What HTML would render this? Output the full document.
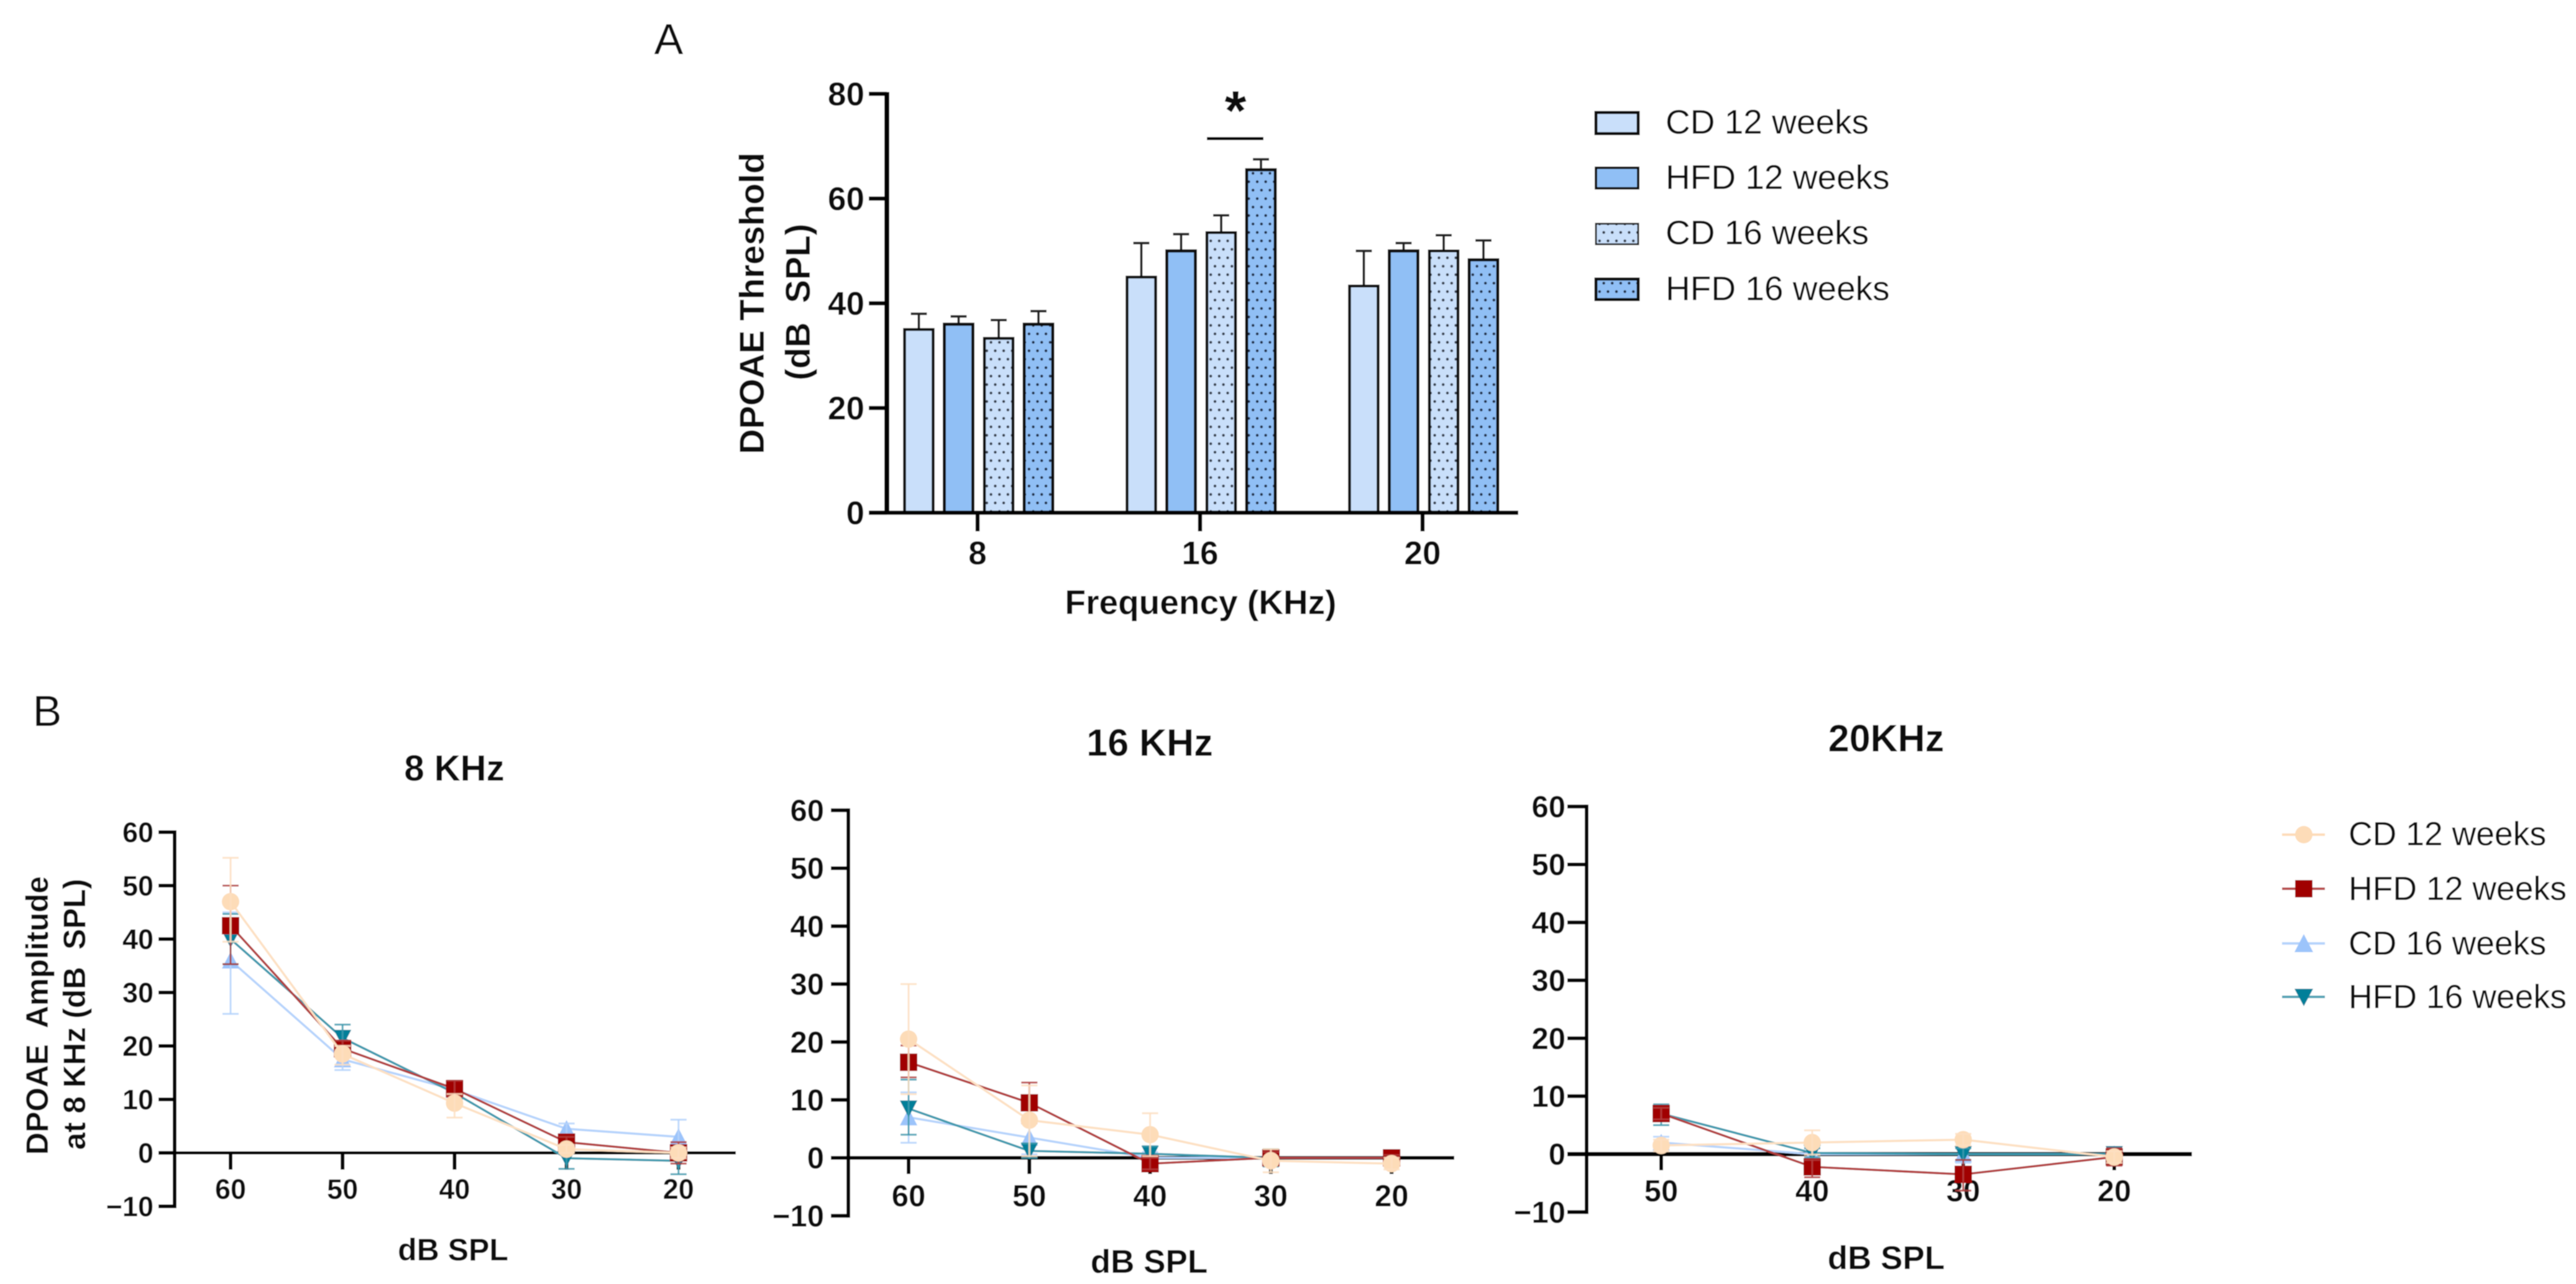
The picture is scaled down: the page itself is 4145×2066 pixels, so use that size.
<!DOCTYPE html>
<html lang="en">
<head>
<meta charset="utf-8">
<title>DPOAE threshold and amplitude charts</title>
<style>
html,body{margin:0;padding:0;background:#fff;width:4145px;height:2066px;overflow:hidden}
svg{display:block;font-family:"Liberation Sans",sans-serif}
text{fill:#0c0c0c}
.b{font-weight:700}
</style>
</head>
<body>
<svg id="figure" xmlns="http://www.w3.org/2000/svg" width="4145" height="2066" viewBox="0 0 4145 2066">
  <defs>
    <filter id="soft" x="0" y="0" width="100%" height="100%"><feGaussianBlur stdDeviation="0.9"/></filter>
    <pattern id="dots-cd" width="13.6" height="27.2" patternUnits="userSpaceOnUse">
      <rect width="13.6" height="27.2" fill="#c9dffa"/>
      <circle cx="3.4" cy="6.8" r="2.2" fill="#333a48"/>
      <circle cx="10.2" cy="20.4" r="2.2" fill="#333a48"/>
    </pattern>
    <pattern id="dots-hfd" width="13.6" height="27.2" patternUnits="userSpaceOnUse">
      <rect width="13.6" height="27.2" fill="#90bff5"/>
      <circle cx="3.4" cy="6.8" r="2.2" fill="#1f2c44"/>
      <circle cx="10.2" cy="20.4" r="2.2" fill="#1f2c44"/>
    </pattern>
  </defs>
  <g id="root" filter="url(#soft)">
    <rect width="4145" height="2066" fill="#fff"/>

    <text x="1076" y="87" font-size="70" text-anchor="middle">A</text>
    <text x="76" y="1168" font-size="70" text-anchor="middle">B</text>

    <text class="b" transform="translate(1229,488) rotate(-90)" font-size="56" text-anchor="middle">DPOAE Threshold</text>
    <text class="b" transform="translate(1303,486) rotate(-90)" font-size="56" text-anchor="middle" xml:space="preserve">(dB  SPL)</text>
    <text class="b" x="1932" y="988" font-size="55" text-anchor="middle">Frequency (KHz)</text>
    <line x1="1942" y1="223" x2="2033" y2="223" stroke="#000" stroke-width="5"/>
    <text class="b" x="1988" y="209" font-size="90" text-anchor="middle">*</text>

    <g>
      <g>
        <rect x="2568" y="181" width="68" height="34" fill="#c9dffa" stroke="#111" stroke-width="5"/>
        <text x="2680" y="215" font-size="55">CD 12 weeks</text>
      </g>
      <g>
        <rect x="2568" y="270" width="68" height="33" fill="#90bff5" stroke="#111" stroke-width="4"/>
        <text x="2680" y="304" font-size="55">HFD 12 weeks</text>
      </g>
      <g>
        <rect x="2568" y="360" width="68" height="33" fill="url(#dots-cd)" stroke="#222" stroke-width="3"/>
        <text x="2680" y="393" font-size="55">CD 16 weeks</text>
      </g>
      <g>
        <rect x="2568" y="449" width="68" height="33" fill="url(#dots-hfd)" stroke="#111" stroke-width="5"/>
        <text x="2680" y="483" font-size="55">HFD 16 weeks</text>
      </g>
    </g>

    <text class="b" x="731" y="1256" font-size="58" text-anchor="middle">8 KHz</text>
    <text class="b" x="1850" y="1216" font-size="61" text-anchor="middle">16 KHz</text>
    <text class="b" x="3035" y="1209" font-size="61" text-anchor="middle">20KHz</text>
    <text class="b" x="729" y="2028" font-size="50" text-anchor="middle">dB SPL</text>
    <text class="b" x="1849" y="2048" font-size="53" text-anchor="middle">dB SPL</text>
    <text class="b" x="3035" y="2042" font-size="53" text-anchor="middle">dB SPL</text>
    <text class="b" transform="translate(77,1634) rotate(-90)" font-size="50" text-anchor="middle" xml:space="preserve">DPOAE  Amplitude</text>
    <text class="b" transform="translate(137,1632) rotate(-90)" font-size="50" text-anchor="middle" xml:space="preserve">at 8 KHz (dB  SPL)</text>

    <g>
      <g>
        <line x1="3672" y1="1343" x2="3741" y2="1343" stroke="#fddcb8" stroke-width="4"/>
        <circle cx="3707" cy="1343" r="14" fill="#fddcb8"/>
        <text x="3779" y="1360" font-size="53.5">CD 12 weeks</text>
      </g>
      <g>
        <line x1="3672" y1="1430" x2="3741" y2="1430" stroke="#b84a4a" stroke-width="4"/>
        <rect x="3693" y="1416" width="28" height="28" fill="#a00000"/>
        <text x="3779" y="1448" font-size="53.5">HFD 12 weeks</text>
      </g>
      <g>
        <line x1="3672" y1="1518" x2="3741" y2="1518" stroke="#b5d3fc" stroke-width="4"/>
        <polygon points="3707,1503 3722,1532 3692,1532" fill="#9cc4fb"/>
        <text x="3779" y="1536" font-size="53.5">CD 16 weeks</text>
      </g>
      <g>
        <line x1="3672" y1="1604" x2="3741" y2="1604" stroke="#4fa3b5" stroke-width="4"/>
        <polygon points="3692,1591 3722,1591 3707,1619" fill="#007f99"/>
        <text x="3779" y="1622" font-size="53.5">HFD 16 weeks</text>
      </g>
    </g>

    <g id="threshold-chart"></g>
    <g id="panel-8"></g>
    <g id="panel-16"></g>
    <g id="panel-20"></g>
  </g>
</svg>
<script>
// ---- Panel A: threshold bars ----
const barCategories = ['8', '16', '20'];
const barYTicks = [0, 20, 40, 60, 80];
const barCd12 = [35, 45, 43.3];
const barHfd12 = [36, 50, 50];
const barCd16 = [33.3, 53.5, 50];
const barHfd16 = [36, 65.5, 48.3];
const barCd12Upper = [38, 51.5, 50];
const barHfd12Upper = [37.5, 53.2, 51.5];
const barCd16Upper = [36.8, 56.8, 53];
const barHfd16Upper = [38.5, 67.5, 52];

// ---- Panel B: shared axis ticks ----
const lineYTicks = [-10, 0, 10, 20, 30, 40, 50, 60];

// ---- 8 KHz ----
const k8Levels = ['60', '50', '40', '30', '20'];
const k8Cd12 = [47, 18.5, 9.3, 0.7, 0];
const k8Cd12Up = [55.2, 20, 11, 1.5, 1];
const k8Cd12Down = [39.5, 16.5, 6.6, 0, -1];
const k8Hfd12 = [42.5, 19.5, 12, 2, 0];
const k8Hfd12Up = [50, 21, 13.5, 3, 2];
const k8Hfd12Down = [35.3, 18, 10.5, 1, -2];
const k8Cd16 = [36, 17.5, 11.8, 4.5, 3];
const k8Cd16Up = [45, 19.5, 13, 5.5, 6.2];
const k8Cd16Down = [26, 15.5, 10.5, 3.5, 0];
const k8Hfd16 = [40, 21.5, 11.2, -1, -1.5];
const k8Hfd16Up = [44.7, 24, 12.5, 1, 1];
const k8Hfd16Down = [35.3, 19, 10, -3, -4];

// ---- 16 KHz ----
const k16Levels = ['60', '50', '40', '30', '20'];
const k16Cd12 = [20.5, 6.5, 4, -0.5, -1];
const k16Cd12Up = [30, 12.5, 7.7, 1.5, 0];
const k16Cd12Down = [11, 0.3, 0.3, -2.5, -2];
const k16Hfd12 = [16.5, 9.5, -1, 0, 0];
const k16Hfd12Up = [19.4, 13, 0, 1, 0.5];
const k16Hfd12Down = [13.9, 6, -2, -1, -0.5];
const k16Cd16 = [7, 3.5, 0, 0, 0];
const k16Cd16Up = [11.3, 6.4, 1, 1, 0.5];
const k16Cd16Down = [2.6, 0.6, -1, -1, -0.5];
const k16Hfd16 = [8.5, 1.2, 0.7, 0, 0];
const k16Hfd16Up = [13.5, 2.5, 2, 1.5, 0.5];
const k16Hfd16Down = [4, 0, -0.6, -1.5, -0.5];

// ---- 20 KHz ----
const k20Levels = ['50', '40', '30', '20'];
const k20Cd12 = [1.5, 2, 2.5, -0.5];
const k20Cd12Up = [2.5, 4.1, 3.5, 0.5];
const k20Cd12Down = [0.5, -0.1, 1.5, -1.5];
const k20Hfd12 = [7, -2.2, -3.5, -0.5];
const k20Hfd12Up = [8, -1, -1, 1];
const k20Hfd12Down = [6, -4, -6.3, -2];
const k20Cd16 = [2, 0, 0, 0];
const k20Cd16Up = [3, 1, 1, 0.5];
const k20Cd16Down = [1, -1, -1.5, -0.5];
const k20Hfd16 = [7, 0.2, 0, 0];
const k20Hfd16Up = [8.6, 1, 1, 1];
const k20Hfd16Down = [5, -0.6, -1, -1];

const NS = 'http://www.w3.org/2000/svg';
function make(tag, parent, attrs, text) {
  const el = document.createElementNS(NS, tag);
  for (const k in attrs) el.setAttribute(k, attrs[k]);
  if (text !== undefined) el.textContent = text;
  parent.appendChild(el);
  return el;
}

// ---------- Threshold bar chart ----------
function drawBarChart() {
  const host = document.getElementById('threshold-chart');
  const y = v => 825 - v * 8.425;
  const groupX = i => 1573 + i * 358;
  const barStyles = [
    { key: 'cd-12-weeks', values: barCd12, upper: barCd12Upper, fill: '#c9dffa', off: -94.5, sw: 4.5 },
    { key: 'hfd-12-weeks', values: barHfd12, upper: barHfd12Upper, fill: '#90bff5', off: -30.5, sw: 5 },
    { key: 'cd-16-weeks', values: barCd16, upper: barCd16Upper, fill: 'url(#dots-cd)', off: 34, sw: 4.5 },
    { key: 'hfd-16-weeks', values: barHfd16, upper: barHfd16Upper, fill: 'url(#dots-hfd)', off: 98, sw: 5 }
  ];
  barStyles.forEach(s => {
    const g = make('g', host, {});
    
    
    s.values.forEach((v, i) => {
      const cx = groupX(i) + s.off;
      const stem = make('line', g, { x1: cx, x2: cx, y1: y(s.upper[i]), y2: y(v), stroke: '#222', 'stroke-width': 4 });
      
      
      const cap = make('line', g, { x1: cx - 13, x2: cx + 13, y1: y(s.upper[i]), y2: y(s.upper[i]), stroke: '#222', 'stroke-width': 4 });
      
      
      const bar = make('rect', g, { x: cx - 23, width: 46, y: y(v), height: y(0) - y(v), fill: s.fill, stroke: '#111', 'stroke-width': s.sw });
      
      
    });
  });
  const yAxis = make('line', host, { x1: 1427, x2: 1427, y1: y(80) - 3, y2: y(0) + 3, stroke: '#000', 'stroke-width': 8 });
  
  
  const xAxis = make('line', host, { x1: 1398, x2: 2443, y1: y(0), y2: y(0), stroke: '#000', 'stroke-width': 6.5 });
  
  
  barYTicks.forEach(t => {
    const tick = make('line', host, { x1: 1398, x2: 1427, y1: y(t), y2: y(t), stroke: '#000', 'stroke-width': 6.5 });
    
    
    const lab = make('text', host, { x: 1391, y: y(t) + 18.5, 'font-size': 53, 'font-weight': 700, 'text-anchor': 'end' }, String(t));
    
    
  });
  barCategories.forEach((c, i) => {
    const tick = make('line', host, { x1: groupX(i), x2: groupX(i), y1: y(0), y2: 855, stroke: '#000', 'stroke-width': 6.5 });
    
    
    const lab = make('text', host, { x: groupX(i), y: 908, 'font-size': 53, 'font-weight': 700, 'text-anchor': 'middle' }, c);
    
    
  });
}

// ---------- Amplitude line panels ----------
const seriesLook = {
  cd16: { key: 'cd-16-weeks', color: '#9cc4fb', line: '#b5d3fc', shape: 'up' },
  hfd16: { key: 'hfd-16-weeks', color: '#007f99', line: '#3d9aae', shape: 'down' },
  hfd12: { key: 'hfd-12-weeks', color: '#a00000', line: '#b23c3c', shape: 'square' },
  cd12: { key: 'cd-12-weeks', color: '#fddcb8', line: '#fde0c2', shape: 'circle' }
};

function marker(parent, shape, cx, cy, color) {
  const h = 14;
  if (shape === 'circle') return make('circle', parent, { cx: cx, cy: cy, r: h, fill: color });
  if (shape === 'square') return make('rect', parent, { x: cx - h, y: cy - h, width: h * 2, height: h * 2, fill: color });
  if (shape === 'up') return make('polygon', parent, { points: (cx) + ',' + (cy - h) + ' ' + (cx + h) + ',' + (cy + h - 1) + ' ' + (cx - h) + ',' + (cy + h - 1), fill: color });
  return make('polygon', parent, { points: (cx - h) + ',' + (cy - h + 1) + ' ' + (cx + h) + ',' + (cy - h + 1) + ' ' + (cx) + ',' + (cy + h), fill: color });
}

function drawPanel(hostId, prefix, levels, series, frame) {
  const host = document.getElementById(hostId);
  const x = i => frame.x0 + i * frame.dx;
  const y = v => frame.zero - v * frame.unit;
  const axisLeft = frame.axisX;

  const yAxis = make('line', host, { x1: axisLeft, x2: axisLeft, y1: y(60) - 3, y2: y(-10) + 3, stroke: '#000', 'stroke-width': 6 });
  
  
  const xAxis = make('line', host, { x1: frame.tickLeft, x2: frame.axisRight, y1: y(0), y2: y(0), stroke: '#000', 'stroke-width': frame.xWidth });
  
  

  lineYTicks.forEach(t => {
    const tick = make('line', host, { x1: frame.tickLeft, x2: axisLeft, y1: y(t), y2: y(t), stroke: '#000', 'stroke-width': 6 });
    
    
    const label = t < 0 ? '\u2212' + Math.abs(t) : String(t);
    const lab = make('text', host, { x: frame.labelRight, y: y(t) + frame.fs * 0.35, 'font-size': frame.fs, 'font-weight': 700, 'text-anchor': 'end' }, label);
    
    
  });
  levels.forEach((c, i) => {
    const tick = make('line', host, { x1: x(i), x2: x(i), y1: y(0), y2: frame.tickBottom, stroke: '#000', 'stroke-width': 6 });
    
    
    const lab = make('text', host, { x: x(i), y: frame.labelY + frame.fs * 0.35, 'font-size': frame.fs, 'font-weight': 700, 'text-anchor': 'middle' }, c);
    
    
  });

  ['cd16', 'hfd16', 'hfd12', 'cd12'].forEach(id => {
    const look = seriesLook[id];
    const s = series[id];
    const g = make('g', host, {});
    
    
    const pts = s.values.map((v, i) => x(i) + ',' + y(v)).join(' ');
    const line = make('polyline', g, { points: pts, fill: 'none', stroke: look.line, 'stroke-width': 3.5 });
    
    
    s.values.forEach((v, i) => {
      const m = marker(g, look.shape, x(i), y(v), look.color);
      
      
      const stem = make('line', g, { x1: x(i), x2: x(i), y1: y(s.up[i]), y2: y(s.down[i]), stroke: look.line, 'stroke-width': 3, opacity: 0.85 });
      
      
      [s.up[i], s.down[i]].forEach(b => {
        const cap = make('line', g, { x1: x(i) - 13, x2: x(i) + 13, y1: y(b), y2: y(b), stroke: look.line, 'stroke-width': 3, opacity: 0.85 });
        
        
      });
    });
  });
}

drawBarChart();

drawPanel('panel-8', 'khz8', k8Levels, {
  cd12: { values: k8Cd12, up: k8Cd12Up, down: k8Cd12Down },
  hfd12: { values: k8Hfd12, up: k8Hfd12Up, down: k8Hfd12Down },
  cd16: { values: k8Cd16, up: k8Cd16Up, down: k8Cd16Down },
  hfd16: { values: k8Hfd16, up: k8Hfd16Up, down: k8Hfd16Down }
}, { x0: 371, dx: 180.2, zero: 1855, unit: 8.6, axisX: 281, tickLeft: 255, axisRight: 1184, tickBottom: 1882, labelRight: 247, labelY: 1913, fs: 45, xWidth: 5 });

drawPanel('panel-16', 'khz16', k16Levels, {
  cd12: { values: k16Cd12, up: k16Cd12Up, down: k16Cd12Down },
  hfd12: { values: k16Hfd12, up: k16Hfd12Up, down: k16Hfd12Down },
  cd16: { values: k16Cd16, up: k16Cd16Up, down: k16Cd16Down },
  hfd16: { values: k16Hfd16, up: k16Hfd16Up, down: k16Hfd16Down }
}, { x0: 1462, dx: 194.3, zero: 1863, unit: 9.32, axisX: 1365, tickLeft: 1337, axisRight: 2340, tickBottom: 1889, labelRight: 1326, labelY: 1924, fs: 49, xWidth: 6 });

drawPanel('panel-20', 'khz20', k20Levels, {
  cd12: { values: k20Cd12, up: k20Cd12Up, down: k20Cd12Down },
  hfd12: { values: k20Hfd12, up: k20Hfd12Up, down: k20Hfd12Down },
  cd16: { values: k20Cd16, up: k20Cd16Up, down: k20Cd16Down },
  hfd16: { values: k20Hfd16, up: k20Hfd16Up, down: k20Hfd16Down }
}, { x0: 2673, dx: 243, zero: 1857, unit: 9.32, axisX: 2553, tickLeft: 2522, axisRight: 3527, tickBottom: 1883, labelRight: 2519, labelY: 1916, fs: 49, xWidth: 7 });
</script>
</body>
</html>
